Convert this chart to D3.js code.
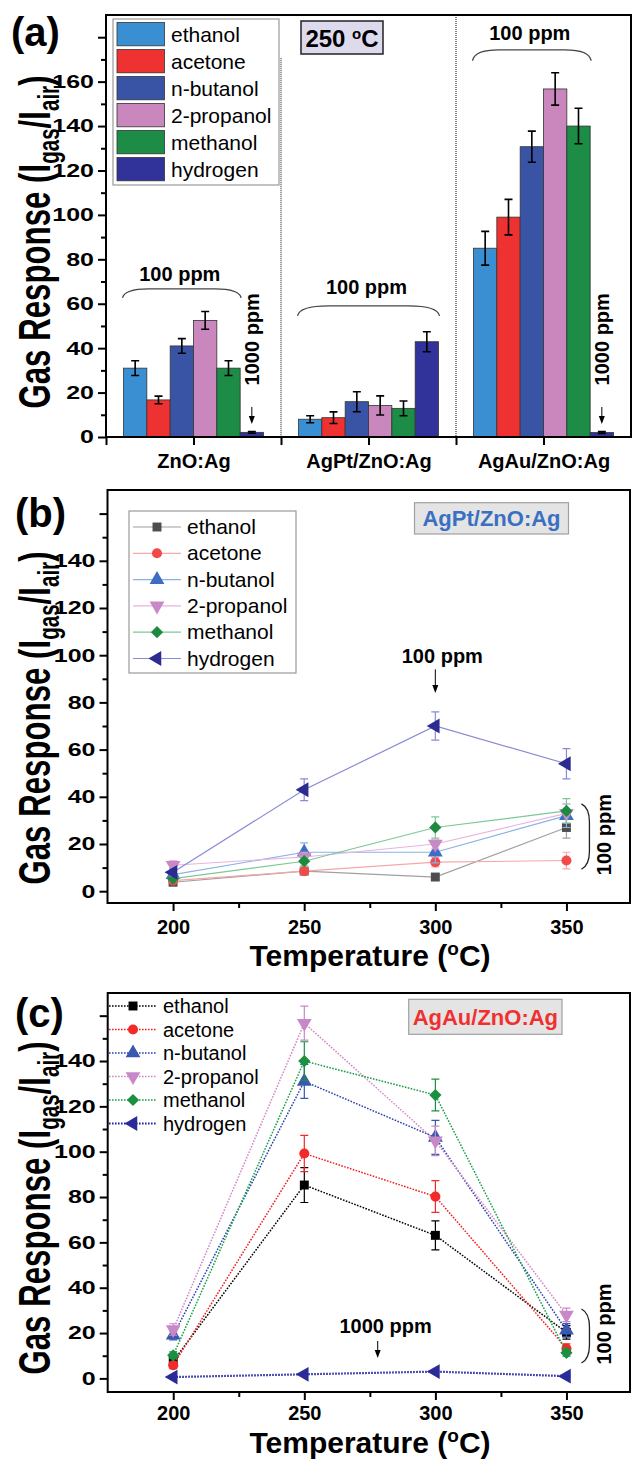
<!DOCTYPE html>
<html>
<head>
<meta charset="utf-8">
<script src="https://cdn.jsdelivr.net/npm/d3@7"></script>
<style>
  body { margin: 0; background: #fff; }
  svg { display: block; font-family: "Liberation Sans", Arial, sans-serif; }
</style>
</head>
<body>
<script>
// ---- data ----
const gases = ['ethanol', 'acetone', 'n-butanol', '2-propanol', 'methanol', 'hydrogen'];
const samples = ['ZnO:Ag', 'AgPt/ZnO:Ag', 'AgAu/ZnO:Ag'];

// panel (a), 250 C
const respZnO = [31, 16.7, 41, 52.5, 31, 2.1];
const errZnO = [3.3, 1.7, 3.3, 4, 3.3, 0.4];
const respAgPt = [8, 8.7, 15.9, 14.2, 12.9, 42.9];
const errAgPt = [1.6, 2.6, 4.5, 4.3, 3.3, 4.5];
const respAgAu = [85, 99, 130.7, 156.7, 140, 2];
const errAgAu = [7.6, 8, 7, 7.3, 8, 0.4];

// panels (b) and (c), rows follow gases
const temps = [200, 250, 300, 350];
const respB = [
  [3.8, 8.5, 6, 27],
  [4.5, 8.5, 12.3, 13],
  [7, 16.5, 16.5, 32],
  [11, 14.5, 20, 33],
  [5.3, 12.7, 27, 34],
  [8, 43, 70, 54]
];
const errB = [
  [0.6, 1, 0.8, 4.5],
  [1, 1.5, 2, 3.5],
  [1.5, 4, 4.5, 5],
  [2, 2, 2, 4],
  [1, 2, 4.5, 5.2],
  [1.5, 4.6, 6, 6.4]
];
const respC = [
  [7.6, 85.3, 63.1, 20.3],
  [5.8, 99.2, 80.2, 13.2],
  [19, 131, 106.3, 21.2],
  [21.6, 156.7, 104.8, 28],
  [10.2, 140, 125, 11.3],
  [0.6, 1.8, 3, 1]
];
const errC = [
  [1.5, 7.7, 6.4, 3],
  [1.5, 8, 7, 2],
  [2, 7.5, 7.5, 3],
  [2.5, 7.5, 6.5, 3],
  [1.5, 8.5, 7, 1.5],
  [0.2, 0.3, 0.4, 0.2]
];

// ---- styles ----
const barColors = ['#3a8fd3', '#ee3131', '#3a54a5', '#c987bd', '#1c8c46', '#31329a'];
const markB = ['#4d4d4d', '#f04a4a', '#3e6ec4', '#c88ac6', '#1e8a40', '#2b2b90'];
const lineB = ['#a0a0a0', '#f7a7a7', '#8ab2e6', '#e8b4df', '#7cc896', '#8a8ad6'];
const markC = ['#000000', '#f22a2a', '#3a58b0', '#c888c8', '#1a9040', '#2a2a98'];
const lineC = ['#000000', '#f02020', '#2840b0', '#d088c8', '#18a048', '#2424a0'];
const symbols = [
  { type: d3.symbolSquare, rot: 0, size: 80 },
  { type: d3.symbolCircle, rot: 0, size: 80 },
  { type: d3.symbolTriangle, rot: 0, size: 95 },
  { type: d3.symbolTriangle, rot: 180, size: 95 },
  { type: d3.symbolSquare, rot: 45, size: 75 },
  { type: d3.symbolTriangle, rot: -90, size: 95 }
];

const W = 632, H = 1460;
const svg = d3.select('body').append('svg').attr('width', W).attr('height', H);

function styleAxis(g, fs, sy) {
  g.select('.domain').remove();
  g.selectAll('.tick line').attr('stroke', '#000').attr('stroke-width', 2);
  g.selectAll('.tick text').attr('fill', '#000').attr('font-weight', 'bold')
    .attr('font-size', fs);
  if (sy) g.selectAll('.tick text').attr('transform', `scale(1,${sy})`);
}

function yAxis(g, y, left, maxLabel, top) {
  const major = g.append('g').attr('transform', `translate(${left},0)`)
    .call(d3.axisLeft(y).tickValues(d3.range(0, top, 20)).tickSize(8).tickPadding(4)
      .tickFormat(d => d <= maxLabel ? d : ''));
  styleAxis(major, 25, 0.74);
  const minor = g.append('g').attr('transform', `translate(${left},0)`)
    .call(d3.axisLeft(y).tickValues(d3.range(10, top, 20)).tickSize(5).tickFormat(''));
  styleAxis(minor);
}

function yTitle(g, x, cy) {
  const t = g.append('text').attr('transform', `translate(${x},${cy}) rotate(-90) scale(0.71,1)`)
    .attr('text-anchor', 'middle').attr('font-size', 44).attr('font-weight', 'bold');
  t.append('tspan').text('Gas Response (I');
  t.append('tspan').attr('font-size', 29).attr('dy', 9).text('gas');
  t.append('tspan').attr('dy', -9).text('/I');
  t.append('tspan').attr('font-size', 29).attr('dy', 9).text('air');
  t.append('tspan').attr('dy', -9).text(')');
}

function panelLabel(g, txt, x, y) {
  g.append('text').attr('x', x).attr('y', y).attr('font-size', 40)
    .attr('font-weight', 'bold').text(txt);
}

function frame(g, l, t, r, b) {
  g.append('rect').attr('x', l).attr('y', t).attr('width', r - l).attr('height', b - t)
    .attr('fill', 'none').attr('stroke', '#000').attr('stroke-width', 2);
}

function downArrow(g, x, y0, y1) {
  g.append('line').attr('x1', x).attr('x2', x).attr('y1', y0).attr('y2', y1 - 6)
    .attr('stroke', '#000').attr('stroke-width', 1);
  g.append('path').attr('d', `M${x - 3},${y1 - 8}L${x + 3},${y1 - 8}L${x},${y1}Z`).attr('fill', '#000');
}

function hBrace(g, x0, x1, yTop, yEnd) {
  const w = x1 - x0;
  g.append('path')
    .attr('d', `M${x0},${yEnd} Q${x0 + 2},${yTop} ${x0 + w * 0.22},${yTop} L${x1 - w * 0.22},${yTop} Q${x1 - 2},${yTop} ${x1},${yEnd}`)
    .attr('fill', 'none').attr('stroke', '#444').attr('stroke-width', 1.3);
}

function vBrace(g, x0, y0, y1) {
  const xb = x0 + 8;
  g.append('path')
    .attr('d', `M${x0},${y0} Q${xb},${y0 + 4} ${xb},${y0 + 18} L${xb},${y1 - 18} Q${xb},${y1 - 4} ${x0},${y1}`)
    .attr('fill', 'none').attr('stroke', '#222').attr('stroke-width', 1.3);
}

function boldText(g, txt, x, y, fs, anchor, rot) {
  const t = g.append('text').attr('font-size', fs).attr('font-weight', 'bold')
    .attr('text-anchor', anchor || 'middle').text(txt);
  if (rot) t.attr('transform', `translate(${x},${y}) rotate(${rot})`);
  else t.attr('x', x).attr('y', y);
  return t;
}

// =============== panel (a) ===============
const A = { left: 106, right: 631, top: 15, bottom: 437 };
const gA = svg.append('g');
const yA = d3.scaleLinear().domain([0, 190]).range([A.bottom, A.top]);
const xA = d3.scaleLinear().domain([0, 3]).range([A.left, A.right]);
const groupW = xA(1) - xA(0);
const xBar = d3.scaleBand().domain(gases).range([-groupW * 0.4, groupW * 0.4]);
const respA = [respZnO, respAgPt, respAgAu];
const errA = [errZnO, errAgPt, errAgAu];

// separators
gA.append('line').attr('x1', xA(1)).attr('x2', xA(1)).attr('y1', yA(170.5)).attr('y2', A.bottom)
  .attr('stroke', '#444').attr('stroke-width', 1.3).attr('stroke-dasharray', '1,1');
gA.append('line').attr('x1', xA(2)).attr('x2', xA(2)).attr('y1', A.top).attr('y2', A.bottom)
  .attr('stroke', '#444').attr('stroke-width', 1.3).attr('stroke-dasharray', '1,1');

samples.forEach((s, i) => {
  const cx = xA(i + 0.5);
  const grp = gA.append('g');
  grp.selectAll('rect').data(gases).join('rect')
    .attr('x', d => cx + xBar(d))
    .attr('y', (d, j) => yA(respA[i][j]))
    .attr('width', xBar.bandwidth())
    .attr('height', (d, j) => yA(0) - yA(respA[i][j]))
    .attr('fill', (d, j) => barColors[j])
    .attr('stroke', '#333').attr('stroke-width', 0.8);
  gases.forEach((d, j) => {
    const bx = cx + xBar(d) + xBar.bandwidth() / 2;
    const lo = yA(respA[i][j] - errA[i][j]), hi = yA(respA[i][j] + errA[i][j]);
    grp.append('path')
      .attr('d', `M${bx},${lo}L${bx},${hi}M${bx - 4},${lo}L${bx + 4},${lo}M${bx - 4},${hi}L${bx + 4},${hi}`)
      .attr('stroke', '#000').attr('stroke-width', 1.6).attr('fill', 'none');
  });
});

frame(gA, A.left, A.top, A.right, A.bottom);
yAxis(gA, yA, A.left, 160, 190);
const xAxA = gA.append('g').attr('transform', `translate(0,${A.bottom})`)
  .call(d3.axisBottom(xA).tickValues([0, 0.5, 1, 1.5, 2, 2.5]).tickSize(8).tickPadding(9)
    .tickFormat(d => d % 1 ? samples[Math.floor(d)] : ''));
styleAxis(xAxA, 20);

// brace annotations
[[0, 4, 70.3, 66.7, 62.6], [1, 5, 64.4, 59, 54.5], [2, 4, 178.8, 174.3, 169.4]].forEach(([i, last, tv, top, end]) => {
  const cx = xA(i + 0.5);
  const x0 = cx + xBar(gases[0]) - 1, x1 = cx + xBar(gases[last]) + xBar.bandwidth() + 1;
  hBrace(gA, x0, x1, yA(top), yA(end));
  boldText(gA, '100 ppm', (x0 + x1) / 2 - 2, yA(tv), 20);
});
[0, 2].forEach(i => {
  const bx = xA(i + 0.5) + xBar('hydrogen') + xBar.bandwidth() / 2;
  boldText(gA, '1000 ppm', bx + 7, yA(44), 20, 'middle', -90);
  downArrow(gA, bx, yA(13.5), yA(5.8));
});

// legend (a)
const legA = gA.append('g');
legA.append('rect').attr('x', 113).attr('y', 19).attr('width', 166).attr('height', 166)
  .attr('fill', '#fff').attr('stroke', '#9a9a9a').attr('stroke-width', 1.2);
gases.forEach((d, j) => {
  const ry = 22.5 + 27 * j;
  legA.append('rect').attr('x', 117).attr('y', ry).attr('width', 47.5).attr('height', 23.3)
    .attr('fill', barColors[j]).attr('stroke', '#333').attr('stroke-width', 0.8);
  legA.append('text').attr('x', 171).attr('y', ry + 19).attr('font-size', 21).text(d);
});

// 250 C box
gA.append('rect').attr('x', 301).attr('y', 21).attr('width', 82).attr('height', 33)
  .attr('fill', '#dedaee').attr('stroke', '#222').attr('stroke-width', 1.5);
const tc = gA.append('text').attr('x', 342).attr('y', 47).attr('text-anchor', 'middle')
  .attr('font-size', 24).attr('font-weight', 'bold');
tc.append('tspan').text('250 ');
tc.append('tspan').attr('font-size', 15).attr('dy', -8).text('o');
tc.append('tspan').attr('dy', 8).text('C');

yTitle(gA, 50, 242);
panelLabel(gA, '(a)', 11, 46);

// =============== line panels ===============
function linePanel(cfg) {
  const g = svg.append('g');
  const x = d3.scaleLinear().domain([175, 375]).range([cfg.left, 632]);
  const y = d3.scaleLinear().domain(cfg.yDomain).range([cfg.bottom, cfg.top]);
  const line = d3.line().x((d, k) => x(temps[k])).y(d => y(d));

  cfg.resp.forEach((vals, j) => {
    const s = g.append('g');
    // error bars
    vals.forEach((v, k) => {
      const px = x(temps[k]), lo = y(v - cfg.err[j][k]), hi = y(v + cfg.err[j][k]);
      s.append('path')
        .attr('d', `M${px},${lo}L${px},${hi}M${px - 4},${lo}L${px + 4},${lo}M${px - 4},${hi}L${px + 4},${hi}`)
        .attr('stroke', cfg.errColor[j]).attr('stroke-width', 1.2).attr('fill', 'none');
    });
    s.append('path').datum(vals).attr('d', line).attr('fill', 'none')
      .attr('stroke', cfg.lineColor[j]).attr('stroke-width', cfg.lw[j])
      .attr('stroke-dasharray', cfg.dash);
    s.selectAll('path.m').data(vals).join('path').attr('class', 'm')
      .attr('d', d3.symbol().type(symbols[j].type).size(symbols[j].size))
      .attr('transform', (d, k) => `translate(${x(temps[k])},${y(d)}) rotate(${symbols[j].rot})`)
      .attr('fill', cfg.markColor[j]);
  });

  frame(g, cfg.left, cfg.top, 630, cfg.bottom);
  yAxis(g, y, cfg.left, 140, 170);
  const xm = g.append('g').attr('transform', `translate(0,${cfg.bottom})`)
    .call(d3.axisBottom(x).tickValues(temps).tickSize(8).tickPadding(cfg.xPad));
  styleAxis(xm, 20);
  const xn = g.append('g').attr('transform', `translate(0,${cfg.bottom})`)
    .call(d3.axisBottom(x).tickValues([225, 275, 325]).tickSize(5).tickFormat(''));
  styleAxis(xn);

  const xt = g.append('text').attr('x', 370).attr('y', cfg.bottom + cfg.xTitleDy).attr('text-anchor', 'middle')
    .attr('font-size', 30).attr('font-weight', 'bold');
  xt.append('tspan').text('Temperature (');
  xt.append('tspan').attr('font-size', 19).attr('dy', -11).text('o');
  xt.append('tspan').attr('dy', 11).text('C)');

  // legend
  const leg = g.append('g');
  if (cfg.legBox) {
    leg.append('rect').attr('x', cfg.legBox[0]).attr('y', cfg.legBox[1])
      .attr('width', cfg.legBox[2]).attr('height', cfg.legBox[3])
      .attr('fill', '#fff').attr('stroke', '#9a9a9a').attr('stroke-width', 1.2);
  }
  gases.forEach((d, j) => {
    const ly = cfg.legY + cfg.legStep * j;
    leg.append('line').attr('x1', cfg.legX - 24).attr('x2', cfg.legX + 24).attr('y1', ly).attr('y2', ly)
      .attr('stroke', cfg.lineColor[j]).attr('stroke-width', cfg.lw[j]).attr('stroke-dasharray', cfg.dash);
    leg.append('path').attr('d', d3.symbol().type(symbols[j].type).size(symbols[j].size))
      .attr('transform', `translate(${cfg.legX},${ly}) rotate(${symbols[j].rot})`)
      .attr('fill', cfg.markColor[j]);
    leg.append('text').attr('x', cfg.legX + 30).attr('y', ly + 7).attr('font-size', cfg.legFs).text(d);
  });

  // sample tag
  g.append('rect').attr('x', cfg.tag[0]).attr('y', cfg.tag[1]).attr('width', cfg.tag[2]).attr('height', cfg.tag[3])
    .attr('fill', '#e4e4e4').attr('stroke', '#a0a0a0').attr('stroke-width', 1.2);
  boldText(g, cfg.tagText, cfg.tag[0] + cfg.tag[2] / 2, cfg.tag[1] + cfg.tag[3] / 2 + 8, 22)
    .attr('fill', cfg.tagColor);

  // 100 ppm brace at 350 C
  vBrace(g, x(350) + 15, y(cfg.braceTop), y(cfg.braceBot));
  boldText(g, '100 ppm', x(350) + 45, y(24), 20, 'middle', -90);

  yTitle(g, 50, cfg.yTitleY);
  panelLabel(g, cfg.label, 15, cfg.labelY);
  return { g, x, y };
}

const pb = linePanel({
  left: 107.5, top: 490, bottom: 903, yDomain: [-5, 170],
  resp: respB, err: errB, lineColor: lineB, errColor: lineB, markColor: markB,
  lw: [1.2, 1.2, 1.2, 1.2, 1.2, 1.2], dash: null, xTitleDy: 63, xPad: 9,
  legBox: [129, 511, 167, 162], legX: 157, legY: 527, legStep: 26.3, legFs: 21,
  tag: [414.5, 502.7, 154, 31.3], tagText: 'AgPt/ZnO:Ag', tagColor: '#3a6fc2',
  braceTop: 37, braceBot: 9.3, yTitleY: 718, label: '(b)', labelY: 527
});
boldText(pb.g, '100 ppm', pb.x(300) + 7, pb.y(96.5), 20);
downArrow(pb.g, pb.x(300), pb.y(94), pb.y(84));

const pc = linePanel({
  left: 107.7, top: 993, bottom: 1392, yDomain: [-6, 170],
  resp: respC, err: errC, lineColor: lineC, errColor: markC, markColor: markC,
  lw: [1.5, 1.5, 1.5, 1.5, 1.5, 2.2], dash: '1.6,1.4', xTitleDy: 61, xPad: 6,
  legBox: null, legX: 133, legY: 1006, legStep: 23.5, legFs: 20,
  tag: [408.7, 999.3, 153.3, 35], tagText: 'AgAu/ZnO:Ag', tagColor: '#f03030',
  braceTop: 30.6, braceBot: 6.8, yTitleY: 1208, label: '(c)', labelY: 1027
});
boldText(pc.g, '1000 ppm', pc.x(281), pc.y(20.2), 20);
downArrow(pc.g, pc.x(278), pc.y(16.5), pc.y(9));
</script>
</body>
</html>
